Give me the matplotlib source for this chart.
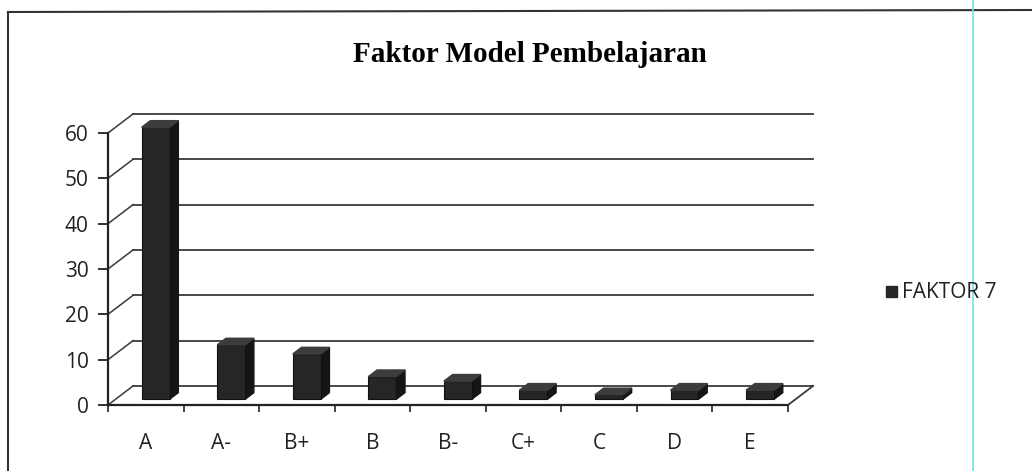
import matplotlib
matplotlib.use("Agg")
import matplotlib.pyplot as plt
from matplotlib.lines import Line2D
from matplotlib.patches import Rectangle

# Data
grades = ["A", "A-", "B+", "B", "B-", "C+", "C", "D", "E"]
faktor7 = [60, 12, 10, 5, 4, 2, 1, 2, 2]
yticks = [0, 10, 20, 30, 40, 50, 60]

W, H = 1032, 471
fig = plt.figure(figsize=(W / 100, H / 100), dpi=100)
fig.patch.set_facecolor("white")

# axes box (front plane of the 3D chart)
left_px, right_px, bot_px, top_px = 108, 788, 405, 133
ax = fig.add_axes([left_px / W, 1 - bot_px / H,
                   (right_px - left_px) / W, (bot_px - top_px) / H])
ax.set_xlim(-0.5, len(grades) - 0.5)
ax.set_ylim(0, 60)
ax.patch.set_alpha(0)

# depth offset of the back wall (px -> data units)
px_x = (len(grades)) / (right_px - left_px)
px_y = 60 / (bot_px - top_px)
ddx = 25 * px_x
ddy = 19 * px_y

grid_col = "#3a3a3a"
x0, x1 = -0.5, len(grades) - 0.5

# back wall gridlines + side diagonals
for t in yticks:
    ax.plot([x0 + ddx, x1 + ddx], [t + ddy, t + ddy], color=grid_col,
            lw=1.3, clip_on=False, zorder=1)
    ax.plot([x0, x0 + ddx], [t, t + ddy], color=grid_col, lw=1.1,
            clip_on=False, zorder=1)
# floor right edge
ax.plot([x1, x1 + ddx], [0, ddy], color=grid_col, lw=1.3, clip_on=False)

# 3D columns
f0, f1 = 0.3, 0.65
bw = 0.37
xs = range(len(grades))
xc = [i + 0.13 for i in xs]
base = f0 * ddy
ax.bar(xc, faktor7, width=bw, bottom=base, color="#262626",
       edgecolor="#111111", lw=0.8, zorder=4, clip_on=False)
sx = (f1 - f0) * ddx
sy = (f1 - f0) * ddy
for c, v in zip(xc, faktor7):
    xl, xr = c - bw / 2, c + bw / 2
    yt = base + v
    ax.fill([xr, xr + sx, xr + sx, xr], [base, base + sy, yt + sy, yt],
            color="#151515", zorder=3, clip_on=False)
    ax.fill([xl, xr, xr + sx, xl + sx], [yt, yt, yt + sy, yt + sy],
            color="#3c3c3c", zorder=5, clip_on=False)

# axes styling
for s in ["top", "right"]:
    ax.spines[s].set_visible(False)
ax.spines["left"].set_linewidth(1.6)
ax.spines["bottom"].set_linewidth(1.6)
ax.spines["left"].set_color("#222222")
ax.spines["bottom"].set_color("#222222")

ax.set_yticks(yticks)
ax.tick_params(axis="y", direction="out", length=7, width=1.3, pad=7,
               labelsize=15, colors="#222222")
ax.set_xticks(list(xs))
ax.set_xticklabels(grades)
ax.set_xticks([i + 0.5 for i in range(-1, len(grades))], minor=True)
ax.tick_params(axis="x", which="major", length=0, pad=20, labelsize=15,
               colors="#222222")
ax.tick_params(axis="x", which="minor", direction="out", length=5, width=1.2,
               colors="#222222")
for lab in ax.get_xticklabels() + ax.get_yticklabels():
    lab.set_fontfamily("Open Sans")

# title
fig.text(530 / W, 1 - 55 / H, "Faktor Model Pembelajaran", ha="center",
         va="center", fontsize=21, fontweight="bold",
         fontfamily="Liberation Serif")

# legend
fig.patches.append(Rectangle((886 / W, 1 - 297 / H), 11 / W, 11 / H,
                             transform=fig.transFigure, color="#262626"))
fig.text(902 / W, 1 - 292 / H, "FAKTOR 7", ha="left", va="center",
         fontsize=15, fontfamily="Open Sans", color="#222222")

# chart border (scan) and cyan scan line
fig.add_artist(Line2D([8 / W, 1], [1 - 12 / H, 1 - 10 / H],
                      transform=fig.transFigure, color="#333333", lw=1.5))
fig.add_artist(Line2D([8 / W, 8 / W], [0, 1 - 12 / H],
                      transform=fig.transFigure, color="#333333", lw=1.5))
fig.add_artist(Line2D([973 / W, 973 / W], [0, 1],
                      transform=fig.transFigure, color="#6fe3ef", lw=1.2))

plt.savefig("out.png", dpi=100)
